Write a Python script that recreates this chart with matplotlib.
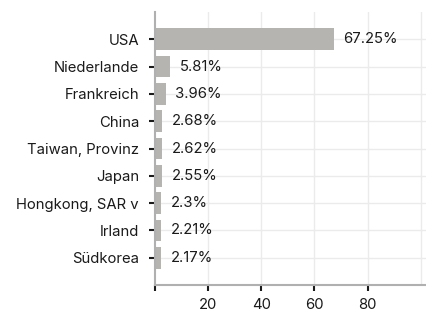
import matplotlib.pyplot as plt

countries = ["USA", "Niederlande", "Frankreich", "China", "Taiwan, Provinz",
             "Japan", "Hongkong, SAR v", "Irland", "Südkorea"]
shares = [67.25, 5.81, 3.96, 2.68, 2.62, 2.55, 2.3, 2.21, 2.17]
share_labels = ["67.25%", "5.81%", "3.96%", "2.68%", "2.62%",
                "2.55%", "2.3%", "2.21%", "2.17%"]
x_ticks = [0, 20, 40, 60, 80]
x_ticklabels = ["", "20", "40", "60", "80"]

plt.rcParams['font.family'] = ['Inter', 'DejaVu Sans']
fs = 10.7

fig = plt.figure(figsize=(4.26, 3.13), dpi=100)
ax = fig.add_axes([0.364, 0.089, 0.636, 0.873])

pos = list(range(len(countries)))
ax.barh(pos, shares, height=0.8, color="#b5b4b0", zorder=2)
for p, v, lab in zip(pos, shares, share_labels):
    ax.annotate(lab, (v, p), xytext=(7, 0), textcoords="offset points",
                va="center", ha="left", fontsize=fs, color="#1a1a1a")

ax.set_ylim(len(countries), -1)
ax.set_xlim(0, 102)
ax.set_yticks(pos)
ax.set_yticklabels(countries, fontsize=fs, color="#1a1a1a")
ax.set_xticks(x_ticks)
ax.set_xticklabels(x_ticklabels, fontsize=fs, color="#1a1a1a")

# grid
for p in pos:
    ax.axhline(p, color="#ebebeb", lw=1, zorder=0)
for x in [20, 40, 60, 80, 100]:
    ax.axvline(x, color="#ebebeb", lw=1, zorder=0)

ax.tick_params(axis="y", length=4, width=1.5, pad=7.5, color="#1a1a1a")
ax.tick_params(axis="x", length=4, width=1.5, pad=5.5, color="#1a1a1a")
for s in ["top", "right"]:
    ax.spines[s].set_visible(False)
for s in ["left", "bottom"]:
    ax.spines[s].set_color("#b0b0b0")
    ax.spines[s].set_linewidth(1.5)

fig.savefig("out.png", dpi=100)
